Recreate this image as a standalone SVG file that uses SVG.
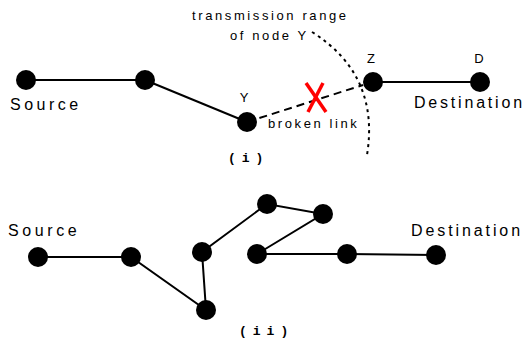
<svg xmlns="http://www.w3.org/2000/svg" width="526" height="339" viewBox="0 0 526 339">
  <style>
    .node { fill: #000; }
    .link { stroke: #000; stroke-width: 2; fill: none; }
    .broken { stroke: #000; stroke-width: 2; stroke-dasharray: 8 5; fill: none; }
    .range { stroke: #000; stroke-width: 2; stroke-dasharray: 3 4; fill: none; }
    .cross { stroke: #f00; stroke-width: 3.5; stroke-linecap: butt; }
    .big { font-family: "Liberation Sans", Arial, sans-serif; font-size: 16px; fill: #000; }
    .small { font-family: "Liberation Sans", Arial, sans-serif; font-size: 13px; letter-spacing: 2.6px; fill: #000; }
    .tag { font-family: "Liberation Sans", Arial, sans-serif; font-size: 13px; fill: #000; text-anchor: middle; }
    .caption { font-family: "Liberation Mono", "Courier New", monospace; font-size: 13px; font-weight: bold; letter-spacing: 6px; fill: #000; }
  </style>

  <rect width="526" height="339" fill="#fff"/>

  <!-- (i) route with a broken link -->
  <g id="connectors-i">
    <line class="link" x1="26" y1="80" x2="145" y2="80"/>
    <line class="link" x1="145" y1="80" x2="247" y2="122"/>
    <line class="broken" x1="247" y1="122" x2="363" y2="85"/>
    <line class="link" x1="373" y1="82" x2="480" y2="82"/>
  </g>

  <g id="range-of-y">
    <path class="range" d="M312,32 Q380,75 367,155"/>
    <text class="small" x="192" y="20">transmission range</text>
    <text class="small" x="230" y="40">of node Y</text>
  </g>

  <g id="break-mark">
    <line class="cross" x1="306" y1="83" x2="326" y2="112"/>
    <line class="cross" x1="323" y1="83" x2="308" y2="112"/>
    <text class="small" x="268" y="128">broken link</text>
  </g>

  <g id="i-source">
    <circle class="node" cx="26" cy="80" r="10"/>
    <text class="big" x="10" y="110" letter-spacing="3.5">Source</text>
  </g>
  <g id="i-hop">
    <circle class="node" cx="145" cy="80" r="10"/>
  </g>
  <g id="i-node-y">
    <circle class="node" cx="247" cy="122" r="10"/>
    <text class="tag" x="244" y="102">Y</text>
  </g>
  <g id="i-node-z">
    <circle class="node" cx="373" cy="82" r="10"/>
    <text class="tag" x="371" y="63">Z</text>
  </g>
  <g id="i-node-d">
    <circle class="node" cx="480" cy="82" r="10"/>
    <text class="tag" x="479" y="63">D</text>
    <text class="big" x="414" y="108" letter-spacing="2.8">Destination</text>
  </g>
  <text class="caption" x="228" y="162">(i)</text>

  <!-- (ii) repaired route -->
  <g id="connectors-ii">
    <polyline class="link" points="38,257 131,257 206,310 202,252 267,204 323,214 257,254 347,254 436,255"/>
  </g>

  <g id="ii-source">
    <circle class="node" cx="38" cy="257" r="10"/>
    <text class="big" x="8" y="236" letter-spacing="3.6">Source</text>
  </g>
  <g id="ii-n1"><circle class="node" cx="131" cy="257" r="10"/></g>
  <g id="ii-n2"><circle class="node" cx="206" cy="310" r="10"/></g>
  <g id="ii-n3"><circle class="node" cx="202" cy="252" r="10"/></g>
  <g id="ii-n4"><circle class="node" cx="267" cy="204" r="10"/></g>
  <g id="ii-n5"><circle class="node" cx="323" cy="214" r="10"/></g>
  <g id="ii-n6"><circle class="node" cx="257" cy="254" r="10"/></g>
  <g id="ii-n7"><circle class="node" cx="347" cy="254" r="10"/></g>
  <g id="ii-destination">
    <circle class="node" cx="436" cy="255" r="10"/>
    <text class="big" x="411" y="236" letter-spacing="2.9">Destination</text>
  </g>
  <text class="caption" x="239" y="335">(ii)</text>
</svg>
